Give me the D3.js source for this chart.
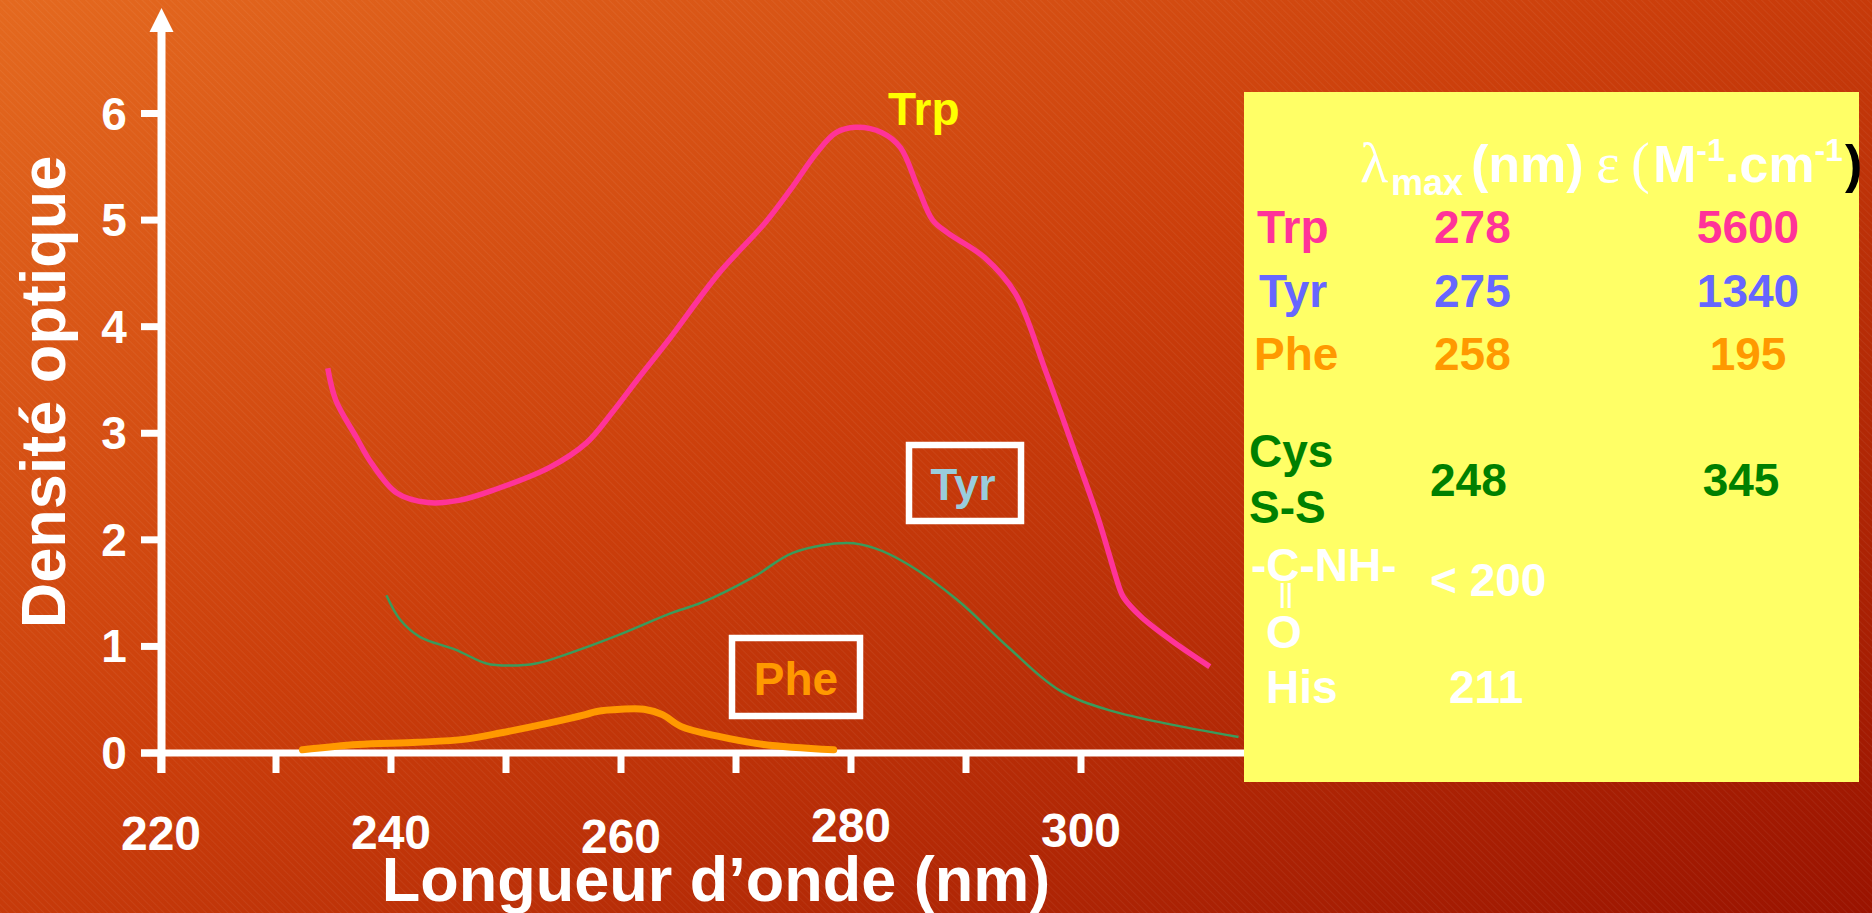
<!DOCTYPE html>
<html lang="fr">
<head>
<meta charset="utf-8">
<style>
    html, body {
        margin: 0;
        padding: 0;
        overflow: hidden;
        background: #C8390A;
    }
    svg text {
        font-family: "Liberation Sans", Arial, sans-serif;
        font-weight: bold;
    }
</style>
</head>
<body>
<script src="https://cdn.jsdelivr.net/npm/d3@7"></script>
<script>
// spectres d'absorption UV
var trpX = [234.5, 235.2, 237.0, 238.3, 240.5, 243.2, 245.9, 249.0, 253.8, 257.0, 259.2, 261.4, 264.1, 268.5, 272.5, 274.7, 277.0, 278.7, 280.4, 282.7, 284.3, 285.8, 287.1, 288.4, 291.6, 294.3, 296.9, 299.6, 301.5, 303.4, 303.7, 305.2, 307.8, 311.2];
var trpY = [3.61, 3.31, 2.96, 2.72, 2.44, 2.35, 2.37, 2.47, 2.68, 2.91, 3.19, 3.5, 3.87, 4.5, 4.97, 5.28, 5.63, 5.82, 5.87, 5.82, 5.68, 5.31, 5.0, 4.88, 4.65, 4.31, 3.59, 2.78, 2.2, 1.53, 1.46, 1.28, 1.06, 0.81];

var tyrX = [239.6, 240.8, 242.5, 245.6, 248.3, 250.3, 252.6, 256.4, 260.3, 264.3, 267.0, 271.5, 275.0, 279.7, 282.1, 284.8, 289.2, 293.7, 298.1, 302.5, 313.7];
var tyrY = [1.48, 1.25, 1.09, 0.97, 0.84, 0.82, 0.84, 0.97, 1.13, 1.31, 1.41, 1.65, 1.88, 1.97, 1.92, 1.78, 1.44, 0.99, 0.59, 0.40, 0.15];

var pheX = [232.3, 237.1, 242.3, 246.5, 249.6, 253.7, 256.9, 257.9, 260, 262, 263.6, 265.2, 268.3, 272.4, 278.5];
var pheY = [0.03, 0.08, 0.1, 0.13, 0.19, 0.28, 0.36, 0.39, 0.41, 0.41, 0.36, 0.25, 0.16, 0.08, 0.03];

var xTicks = [220, 230, 240, 250, 260, 270, 280, 290, 300];
var xTickLabels = [220, 240, 260, 280, 300];
var yTicks = [0, 1, 2, 3, 4, 5, 6];

// tableau : acide aminé, lambda max, epsilon
var tableNames = ["Trp", "Tyr", "Phe"];
var tableLambda = ["278", "275", "258"];
var tableEps = ["5600", "1340", "195"];

var width = 1872, height = 913;

var svg = d3.select("body").append("svg")
    .attr("width", width)
    .attr("height", height);

var defs = svg.append("defs");
var grad = defs.append("linearGradient")
    .attr("id", "bg")
    .attr("x1", 0).attr("y1", 0).attr("x2", 1).attr("y2", 1);
grad.append("stop").attr("offset", "0%").attr("stop-color", "#E4691F");
grad.append("stop").attr("offset", "45%").attr("stop-color", "#CB3E0B");
grad.append("stop").attr("offset", "100%").attr("stop-color", "#9A1300");

var pat = defs.append("pattern")
    .attr("id", "stripes")
    .attr("width", 5).attr("height", 5)
    .attr("patternUnits", "userSpaceOnUse")
    .attr("patternTransform", "rotate(-45)");
pat.append("line")
    .attr("x1", 0).attr("y1", 0).attr("x2", 0).attr("y2", 5)
    .attr("stroke", "#ffffff").attr("stroke-opacity", 0.05).attr("stroke-width", 2);

svg.append("rect").attr("width", width).attr("height", height).attr("fill", "url(#bg)");
svg.append("rect").attr("width", width).attr("height", height).attr("fill", "url(#stripes)");

var x = d3.scaleLinear().domain([220, 300]).range([161, 1081]);
var y = d3.scaleLinear().domain([0, 6]).range([753, 113.5]);

var line = d3.line()
    .x(function (d) { return x(d[0]); })
    .y(function (d) { return y(d[1]); })
    .curve(d3.curveCatmullRom.alpha(0.5));

function pairs(xs, ys) {
    return xs.map(function (v, i) { return [v, ys[i]]; });
}

// axes
var axes = svg.append("g").attr("stroke", "#fff").attr("fill", "#fff");
axes.append("line")
    .attr("x1", 161.5).attr("x2", 161.5)
    .attr("y1", 773).attr("y2", 28)
    .attr("stroke-width", 8);
axes.append("path")
    .attr("d", "M161.5,8 L173.5,32 L149.5,32 Z")
    .attr("stroke", "none");
axes.append("line")
    .attr("x1", 141).attr("x2", 1280)
    .attr("y1", 753).attr("y2", 753)
    .attr("stroke-width", 7);
axes.append("path")
    .attr("d", "M1299,753 L1276,741 L1276,765 Z")
    .attr("stroke", "none");

axes.selectAll("line.ytick")
    .data(yTicks)
    .enter().append("line")
    .attr("class", "ytick")
    .attr("x1", 141).attr("x2", 162)
    .attr("y1", function (d) { return y(d); })
    .attr("y2", function (d) { return y(d); })
    .attr("stroke-width", 7);

axes.selectAll("line.xtick")
    .data(xTicks)
    .enter().append("line")
    .attr("class", "xtick")
    .attr("x1", function (d) { return x(d); })
    .attr("x2", function (d) { return x(d); })
    .attr("y1", 753).attr("y2", 773)
    .attr("stroke-width", 7);

svg.selectAll("text.ylab")
    .data(yTicks)
    .enter().append("text")
    .attr("class", "ylab")
    .attr("x", 114)
    .attr("y", function (d) { return y(d) + 16; })
    .attr("text-anchor", "middle")
    .attr("font-size", 46)
    .attr("fill", "#fff")
    .text(function (d) { return d; });

// les étiquettes de l'axe x ne sont pas alignées sur l'original
var xLabBase = { 220: 850, 240: 849, 260: 853, 280: 842, 300: 847 };
svg.selectAll("text.xlab")
    .data(xTickLabels)
    .enter().append("text")
    .attr("class", "xlab")
    .attr("x", function (d) { return x(d); })
    .attr("y", function (d) { return xLabBase[d]; })
    .attr("text-anchor", "middle")
    .attr("font-size", 48)
    .attr("fill", "#fff")
    .text(function (d) { return d; });

svg.append("text")
    .attr("x", 716).attr("y", 901)
    .attr("text-anchor", "middle")
    .attr("font-size", 63)
    .attr("fill", "#fff")
    .text("Longueur d\u2019onde (nm)");

svg.append("text")
    .attr("transform", "translate(65,392) rotate(-90)")
    .attr("text-anchor", "middle")
    .attr("font-size", 63)
    .attr("fill", "#fff")
    .text("Densité optique");

// courbes
svg.append("path")
    .attr("d", line(pairs(pheX, pheY)))
    .attr("fill", "none")
    .attr("stroke", "#FF9900")
    .attr("stroke-width", 7)
    .attr("stroke-linecap", "round");

svg.append("path")
    .attr("d", line(pairs(tyrX, tyrY)))
    .attr("fill", "none")
    .attr("stroke", "#3A9B5C")
    .attr("stroke-width", 2.5);

svg.append("path")
    .attr("d", line(pairs(trpX, trpY)))
    .attr("fill", "none")
    .attr("stroke", "#FF3399")
    .attr("stroke-width", 5.5);

// étiquettes des courbes
svg.append("text")
    .attr("x", 888).attr("y", 125)
    .attr("font-size", 46)
    .attr("fill", "#FFFF00")
    .text("Trp");

svg.append("rect")
    .attr("x", 909).attr("y", 445).attr("width", 112).attr("height", 76)
    .attr("fill", "none").attr("stroke", "#fff").attr("stroke-width", 6.5);
svg.append("text")
    .attr("x", 963).attr("y", 500)
    .attr("text-anchor", "middle")
    .attr("font-size", 44)
    .attr("fill", "#99CCDD")
    .text("Tyr");

svg.append("rect")
    .attr("x", 732).attr("y", 638).attr("width", 128).attr("height", 78)
    .attr("fill", "none").attr("stroke", "#fff").attr("stroke-width", 6.5);
svg.append("text")
    .attr("x", 796).attr("y", 695)
    .attr("text-anchor", "middle")
    .attr("font-size", 46)
    .attr("fill", "#FF9900")
    .text("Phe");

// panneau jaune
var panel = svg.append("g");
panel.append("rect")
    .attr("x", 1244).attr("y", 92).attr("width", 615).attr("height", 690)
    .attr("fill", "#FFFF66");

var head = panel.append("text").attr("y", 182).attr("fill", "#fff").attr("font-size", 52);
head.append("tspan").attr("x", 1360)
    .attr("font-family", "'Liberation Serif', serif").attr("font-weight", "normal")
    .attr("font-size", 58)
    .text("λ");
head.append("tspan").attr("x", 1391).attr("dy", 13).attr("font-size", 36).text("max");
head.append("tspan").attr("x", 1471).attr("dy", -13).text("(nm)");
head.append("tspan").attr("x", 1596)
    .attr("font-family", "'Liberation Serif', serif").attr("font-weight", "normal")
    .attr("font-size", 56)
    .text("ε");
head.append("tspan").attr("x", 1631)
    .attr("font-family", "'Liberation Serif', serif").attr("font-weight", "normal")
    .attr("font-size", 56)
    .text("(");
head.append("tspan").attr("x", 1653).text("M");
head.append("tspan").attr("dy", -21).attr("font-size", 32).text("-1");
head.append("tspan").attr("dy", 21).text(".cm");
head.append("tspan").attr("dy", -21).attr("font-size", 32).text("-1");
head.append("tspan").attr("x", 1845).attr("dy", 21).attr("fill", "#000").text(")");

var rowColors = ["#FF3399", "#6666FF", "#FF9900"];
var rowBase = [243, 307, 370];
var rowNameX = [1257, 1259, 1254];
var rows = panel.selectAll("g.row")
    .data(tableNames)
    .enter().append("g")
    .attr("class", "row")
    .attr("font-size", 46)
    .attr("fill", function (d, i) { return rowColors[i]; });
rows.append("text")
    .attr("x", function (d, i) { return rowNameX[i]; })
    .attr("y", function (d, i) { return rowBase[i]; })
    .text(function (d) { return d; });
rows.append("text")
    .attr("x", 1434)
    .attr("y", function (d, i) { return rowBase[i]; })
    .text(function (d, i) { return tableLambda[i]; });
rows.append("text")
    .attr("x", 1748)
    .attr("text-anchor", "middle")
    .attr("y", function (d, i) { return rowBase[i]; })
    .text(function (d, i) { return tableEps[i]; });

var green = panel.append("g").attr("fill", "#008000").attr("font-size", 46);
green.append("text").attr("x", 1249).attr("y", 467).text("Cys");
green.append("text").attr("x", 1249).attr("y", 523).text("S-S");
green.append("text").attr("x", 1430).attr("y", 496).text("248");
green.append("text").attr("x", 1741).attr("y", 496).attr("text-anchor", "middle").text("345");

var white = panel.append("g").attr("fill", "#fff").attr("font-size", 46);
white.append("text").attr("x", 1251).attr("y", 581).text("-C-NH-");
white.append("text").attr("x", 1266).attr("y", 648).text("O");
white.append("text").attr("x", 1430).attr("y", 596).text("< 200");
white.append("text").attr("x", 1266).attr("y", 703).text("His");
white.append("text").attr("x", 1449).attr("y", 703).text("211");
white.append("line").attr("x1", 1282).attr("x2", 1282).attr("y1", 583).attr("y2", 608)
    .attr("stroke", "#fff").attr("stroke-width", 3);
white.append("line").attr("x1", 1289).attr("x2", 1289).attr("y1", 583).attr("y2", 608)
    .attr("stroke", "#fff").attr("stroke-width", 3);
</script>
</body>
</html>
